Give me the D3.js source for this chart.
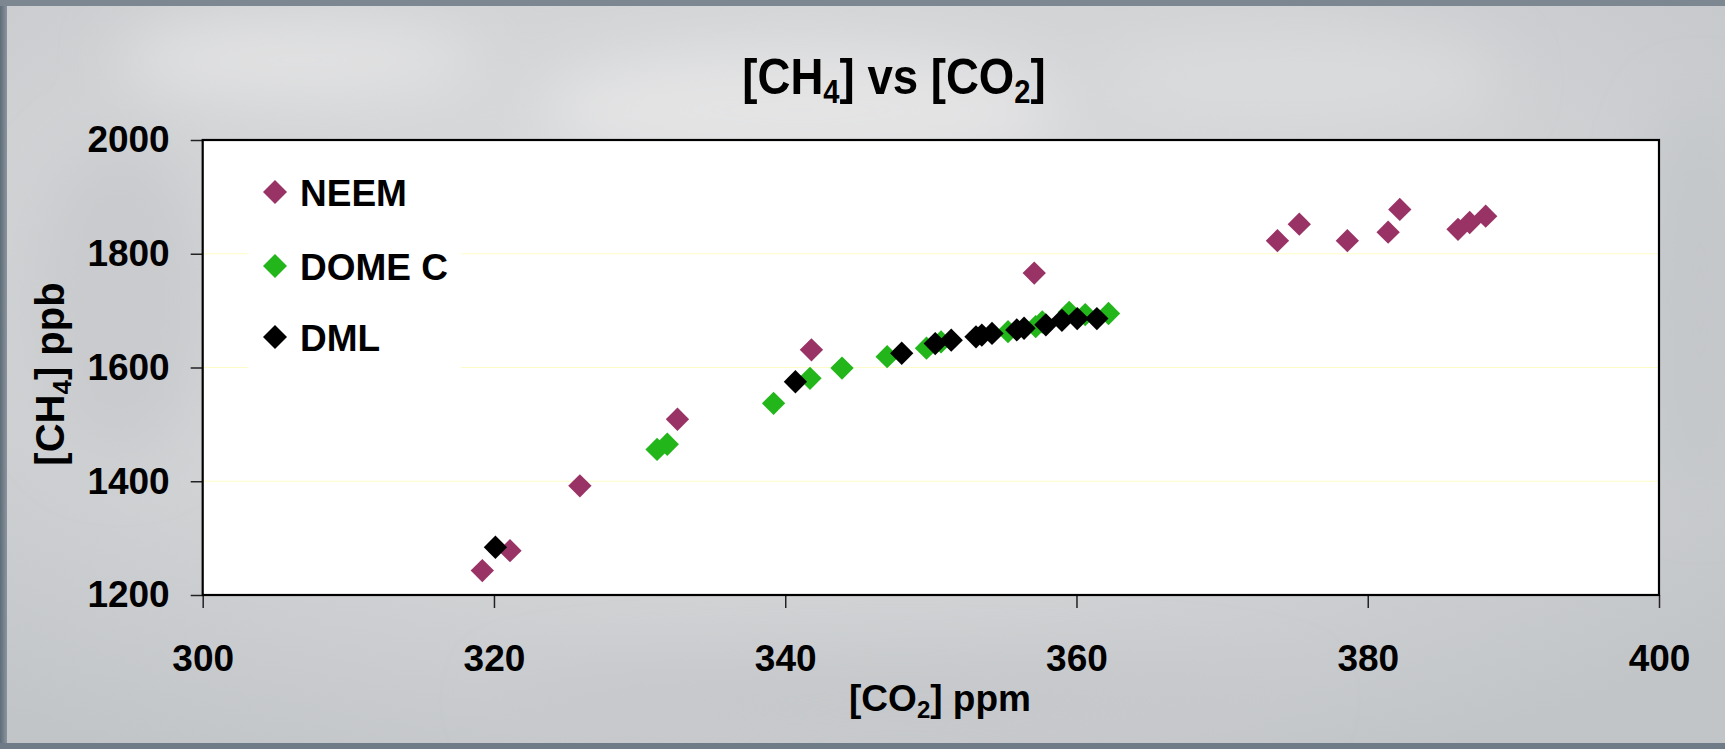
<!DOCTYPE html>
<html>
<head>
<meta charset="utf-8">
<script src="https://cdn.jsdelivr.net/npm/d3@7"></script>
<style>
  html, body { margin: 0; padding: 0; }
  body { width: 1725px; height: 749px; overflow: hidden; }
  text { font-family: "Liberation Sans", Arial, sans-serif; font-weight: bold; fill: #000; }
</style>
</head>
<body>
<svg id="chart" width="1725" height="749"></svg>
<script>
// ---- data ----
const neemCO2 = [319.2, 321.1, 325.9, 332.6, 341.8, 357.1, 373.8, 375.3, 378.6, 381.4, 382.2, 386.2, 387.0, 388.1];
const neemCH4 = [1243, 1278, 1392, 1509, 1631, 1766, 1823, 1852, 1823, 1838, 1878, 1843, 1855, 1866];

const domeCO2 = [331.2, 331.9, 339.2, 341.7, 343.9, 347.0, 349.7, 350.7, 355.3, 357.2, 357.65, 359.5, 360.6, 362.2];
const domeCH4 = [1456, 1465, 1537, 1581, 1599, 1619, 1634, 1645, 1663, 1672, 1680, 1697, 1693, 1695];

const dmlCO2 = [320.1, 340.7, 348.0, 350.3, 351.4, 353.1, 353.5, 354.2, 355.9, 356.4, 357.9, 359.0, 360.05, 361.4];
const dmlCH4 = [1284, 1575, 1625, 1642, 1648, 1654, 1657, 1660, 1666, 1669, 1675, 1683, 1686, 1686];

const xTicks = [300, 320, 340, 360, 380, 400];
const yTicks = [1200, 1400, 1600, 1800, 2000];
const gridTicks = [1400, 1600, 1800];

const seriesNames = ["NEEM", "DOME C", "DML"];
const seriesColors = ["#993366", "#22b61a", "#000000"];

// ---- layout ----
const W = 1725, H = 749;
const pL = 202.7, pR = 1659, pT = 140, pB = 595;

const svg = d3.select("#chart");
const defs = svg.append("defs");

// sky-like background
const bg = defs.append("radialGradient").attr("id", "sky")
  .attr("cx", "45%").attr("cy", "35%").attr("r", "75%");
bg.append("stop").attr("offset", "0%").attr("stop-color", "#dcdddf");
bg.append("stop").attr("offset", "60%").attr("stop-color", "#d0d2d4");
bg.append("stop").attr("offset", "100%").attr("stop-color", "#c2c5c8");
svg.append("rect").attr("width", W).attr("height", H).attr("fill", "url(#sky)");

const blur = defs.append("filter").attr("id", "soft").attr("x", "-50%").attr("y", "-50%").attr("width", "200%").attr("height", "200%");
blur.append("feGaussianBlur").attr("stdDeviation", 30);
const clouds = [[300, 60, 180, 40, "#e2e2e3"], [800, 110, 260, 60, "#e4e4e5"], [1300, 80, 200, 45, "#dadbdd"],
                [120, 300, 90, 160, "#c9cbce"], [1700, 300, 60, 200, "#c4c7ca"], [900, 700, 400, 40, "#c6c8cb"]];
svg.append("g").attr("filter", "url(#soft)").selectAll("ellipse").data(clouds).join("ellipse")
  .attr("cx", d => d[0]).attr("cy", d => d[1]).attr("rx", d => d[2]).attr("ry", d => d[3]).attr("fill", d => d[4]);

// dark frame edges
const edgeL = defs.append("linearGradient").attr("id", "edgeL");
edgeL.append("stop").attr("offset", "0%").attr("stop-color", "#5e6d7a");
edgeL.append("stop").attr("offset", "100%").attr("stop-color", "#8a949d");
svg.append("rect").attr("x", 0).attr("y", 0).attr("width", 7).attr("height", H).attr("fill", "url(#edgeL)");
svg.append("rect").attr("x", 0).attr("y", 0).attr("width", W).attr("height", 6).attr("fill", "#7d8791");
svg.append("rect").attr("x", 0).attr("y", 743).attr("width", W).attr("height", 6).attr("fill", "#6f7b86");

// ---- scales ----
const x = d3.scaleLinear().domain([300, 400]).range([pL, pR]);
const y = d3.scaleLinear().domain([1200, 2000]).range([pB, pT]);

// plot area
svg.append("rect").attr("x", pL).attr("y", pT).attr("width", pR - pL).attr("height", pB - pT)
  .attr("fill", "#ffffff");

// gridlines
svg.append("g").selectAll("line").data(gridTicks).join("line")
  .attr("x1", pL).attr("x2", pR)
  .attr("y1", d => y(d)).attr("y2", d => y(d))
  .attr("stroke", "#fdfcc8").attr("stroke-width", 1.2);

// legend box (covers gridlines)
svg.append("rect").attr("x", 248).attr("y", 158).attr("width", 213).attr("height", 222).attr("fill", "#ffffff");

// axes
const yAxis = d3.axisLeft(y).tickValues(yTicks).tickFormat(d3.format("d"))
  .tickSize(12).tickSizeOuter(0).tickPadding(21);
const gy = svg.append("g").attr("transform", `translate(${pL},0)`).call(yAxis);
gy.select(".domain").remove();
gy.selectAll(".tick line").attr("stroke", "#222").attr("stroke-width", 1.5);
gy.selectAll(".tick text").style("font-size", "37px").style("font-weight", "bold")
  .style("font-family", '"Liberation Sans", Arial, sans-serif').attr("fill", "#000");

const xAxis = d3.axisBottom(x).tickValues(xTicks).tickFormat(d3.format("d"))
  .tickSize(13).tickSizeOuter(0).tickPadding(37);
const gx = svg.append("g").attr("transform", `translate(0,${pB})`).call(xAxis);
gx.select(".domain").remove();
gx.selectAll(".tick line").attr("stroke", "#222").attr("stroke-width", 1.5);
gx.selectAll(".tick text").style("font-size", "37px").style("font-weight", "bold")
  .style("font-family", '"Liberation Sans", Arial, sans-serif').attr("fill", "#000");

// plot frame
svg.append("rect").attr("x", pL).attr("y", pT).attr("width", pR - pL).attr("height", pB - pT)
  .attr("fill", "none").attr("stroke", "#000").attr("stroke-width", 2.2);

// ---- points ----
const diamond = d3.symbol().type(d3.symbolSquare).size(272);
function drawSeries(xs, ys, color) {
  svg.append("g").selectAll("path").data(xs.map((v, i) => [v, ys[i]])).join("path")
    .attr("d", diamond)
    .attr("transform", d => `translate(${x(d[0])},${y(d[1])}) rotate(45)`)
    .attr("fill", color);
}
drawSeries(neemCO2, neemCH4, seriesColors[0]);
drawSeries(domeCO2, domeCH4, seriesColors[1]);
drawSeries(dmlCO2, dmlCH4, seriesColors[2]);

// ---- legend ----
const legendY = [192, 266, 337];
const lg = svg.append("g");
seriesNames.forEach((name, i) => {
  lg.append("path").attr("d", d3.symbol().type(d3.symbolSquare).size(288)())
    .attr("transform", `translate(275,${legendY[i]}) rotate(45)`).attr("fill", seriesColors[i]);
  lg.append("text").attr("x", 300).attr("y", legendY[i] + 13.5).style("font-size", "37px").text(name);
});

// ---- title ----
const title = svg.append("text").attr("transform", "translate(894,94) scale(0.97,1.08)")
  .attr("text-anchor", "middle").style("font-size", "47px");
title.append("tspan").text("[CH");
title.append("tspan").attr("dy", 8).style("font-size", "30px").text("4");
title.append("tspan").attr("dy", -8).text("] vs [CO");
title.append("tspan").attr("dy", 8).style("font-size", "30px").text("2");
title.append("tspan").attr("dy", -8).text("]");

// x-axis title
const xt = svg.append("text").attr("x", 940).attr("y", 711).attr("text-anchor", "middle").style("font-size", "37px");
xt.append("tspan").text("[CO");
xt.append("tspan").attr("dy", 7).style("font-size", "24px").text("2");
xt.append("tspan").attr("dy", -7).text("] ppm");

// y-axis title
const yt = svg.append("text").attr("transform", "translate(64,374) rotate(-90)").attr("text-anchor", "middle").style("font-size", "40px");
yt.append("tspan").text("[CH");
yt.append("tspan").attr("dy", 7).style("font-size", "26px").text("4");
yt.append("tspan").attr("dy", -7).text("] ppb");
</script>
</body>
</html>
